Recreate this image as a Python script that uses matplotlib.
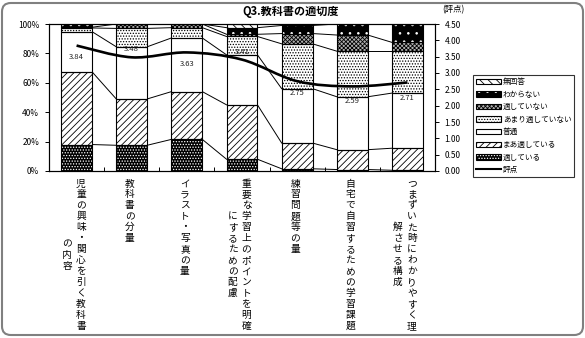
import numpy as np
import matplotlib.pyplot as plt
from matplotlib.patches import Patch, FancyBboxPatch, PathPatch
from matplotlib.lines import Line2D
from matplotlib.path import Path

plt.rcParams['font.family'] = ['Noto Sans CJK JP', 'DejaVu Sans']
plt.rcParams['hatch.linewidth'] = 0.6

# 項目名 (縦書き, 2列目は折り返し分)
項目 = [
    ['児童の興味・関心を引く教科書', 'の内容'],
    ['教科書の分量'],
    ['イラスト・写真の量'],
    ['重要な学習上のポイントを明確', 'にするための配慮'],
    ['練習問題等の量'],
    ['自宅で自習するための学習課題'],
    ['つまずいた時にわかりやすく理', '解させる構成'],
]

# 回答の割合 (%)
適している = [18, 17.5, 21.5, 8, 1.5, 1, 0.5]
まあ適している = [49.5, 31.5, 32.5, 37, 17.5, 13.5, 15]
普通 = [27.3, 35.5, 36.5, 34, 37, 36, 37.5]
あまり適していない = [2.5, 12.5, 7, 12.5, 30.5, 31, 28.5]
適していない = [0.5, 3, 2.5, 1.5, 7, 11, 6]
わからない = [2, 0, 0, 4.5, 5.5, 7.5, 12.5]
無回答 = [0.2, 0, 0, 2.5, 1, 0, 0]

# 評点 (右軸)
評点 = [3.84, 3.48, 3.63, 3.41, 2.75, 2.59, 2.71]

系列名 = ['適している', 'まあ適している', '普通', 'あまり適していない', '適していない', 'わからない', '無回答']
系列値 = [適している, まあ適している, 普通, あまり適していない, 適していない, わからない, 無回答]
# (塗り, ハッチ, ハッチ色)
模様 = [
    ('black', '......', 'white'),
    ('white', '/////', 'black'),
    ('white', '', 'black'),
    ('white', '......', 'black'),
    ('#b0b0b0', 'xxxxxxxx', 'black'),
    ('black', '..', 'white'),
    ('white', '\\\\\\\\', 'black'),
]

W, H = 585, 338
fig = plt.figure(figsize=(W / 100, H / 100), dpi=100)
ax = fig.add_axes([49 / W, 1 - 171 / H, (435 - 49) / W, (171 - 24) / H])

x = np.arange(len(項目))
w = 0.56
bottom = np.zeros(len(x))
tops = []
handles = {}
for name, vals, (fc, hatch, hc) in zip(系列名, 系列値, 模様):
    v = np.array(vals) / 100
    ax.bar(x, v, w, bottom=bottom, color=fc, hatch=hatch, edgecolor=hc, linewidth=0, zorder=2)
    ax.bar(x, v, w, bottom=bottom, fill=False, edgecolor='black', linewidth=0.8, zorder=3)
    bottom = bottom + v
    tops.append(bottom.copy())
    handles[name] = (Patch(facecolor=fc, hatch=hatch, edgecolor=hc, linewidth=0),
                     Patch(fill=False, edgecolor='black', linewidth=0.8))

# 区分線 (棒と棒の間をつなぐ)
for t in tops:
    for i in range(len(x) - 1):
        ax.plot([x[i] + w / 2, x[i + 1] - w / 2], [t[i], t[i + 1]], color='black', lw=0.7, zorder=1)

ax.set_xlim(-0.5, len(x) - 0.5)
ax.set_ylim(0, 1)
ax.set_yticks(np.linspace(0, 1, 6))
ax.set_yticklabels([f'{int(round(v * 100))}%' for v in np.linspace(0, 1, 6)], fontsize=6)
ax.set_xticks(x)
ax.set_xticklabels([])
ax.tick_params(axis='x', length=0)
ax.set_xticks(x[:-1] + 0.5, minor=True)
ax.tick_params(axis='x', which='minor', direction='in', length=3, width=0.7)
ax.tick_params(axis='y', direction='out', length=3, width=0.7, pad=4)
for s in ax.spines.values():
    s.set_linewidth(0.8)

# 縦書きの項目名
trans = ax.get_xaxis_transform()
pitch = 7.9
for i, cols in enumerate(項目):
    n1 = len(cols[0])
    dxs = [-1.4] if len(cols) == 1 else [3.2, -6.8]
    for col, dx in zip(cols, dxs):
        shift = (n1 - len(col)) / 2
        for k, ch in enumerate(col):
            ax.annotate(ch, xy=(i, 0), xycoords=trans,
                        xytext=(dx, -9 - (k + shift) * pitch), textcoords='offset points',
                        ha='center', va='center', fontsize=7, annotation_clip=False)

# 評点の平滑線
ax2 = ax.twinx()
ax2.set_ylim(0, 4.5)
ax2.set_yticks(np.arange(0, 4.51, 0.5))
ax2.set_yticklabels([f'{v:.2f}' for v in np.arange(0, 4.51, 0.5)], fontsize=6)
ax2.tick_params(axis='y', direction='out', length=3, width=0.7, pad=4)
for s in ax2.spines.values():
    s.set_linewidth(0.8)

pts = np.column_stack([x, 評点])
verts = [tuple(pts[0])]
codes = [Path.MOVETO]
for i in range(len(pts) - 1):
    p0 = pts[max(i - 1, 0)]
    p1 = pts[i]
    p2 = pts[i + 1]
    p3 = pts[min(i + 2, len(pts) - 1)]
    verts += [tuple(p1 + (p2 - p0) / 6), tuple(p2 - (p3 - p1) / 6), tuple(p2)]
    codes += [Path.CURVE4] * 3
ax2.add_patch(PathPatch(Path(verts, codes), fill=False, edgecolor='black', lw=1.9, zorder=5))

label_dy = [-8.2, 5.8, -8.2, 5.8, -8.6, -10.5, -11.5]
for xi, s, dy in zip(x, 評点, label_dy):
    ax2.annotate(f'{s:.2f}', (xi, s), xytext=(0, dy), textcoords='offset points',
                 ha='center', va='center', fontsize=5.5, color='#222222', zorder=6)

fig.text(291 / W, 1 - 11 / H, 'Q3.教科書の適切度', ha='center', va='center', fontsize=8, fontweight='bold')
fig.text(453 / W, 1 - 10 / H, '(評点)', ha='center', va='center', fontsize=6)

# 凡例
leg_names = ['無回答', 'わからない', '適していない', 'あまり適していない', '普通', 'まあ適している', '適している']
leg_handles = [handles[n] for n in leg_names] + [Line2D([], [], color='black', lw=1.5)]
leg = fig.legend(leg_handles, leg_names + ['評点'], loc='upper left',
                 bbox_to_anchor=(473 / W, 1 - 75 / H), fontsize=5.5, frameon=True,
                 fancybox=False, edgecolor='black', handlelength=3.2, handleheight=0.7,
                 labelspacing=0.6, borderpad=0.4, handletextpad=0.3, borderaxespad=0)
leg.get_frame().set_linewidth(0.8)

# 外枠
fig.patches.append(FancyBboxPatch((2 / W, 3 / H), 581 / W, 332 / H,
                                  boxstyle='round,pad=0,rounding_size=0.015',
                                  mutation_aspect=W / H, transform=fig.transFigure,
                                  fill=False, edgecolor='#808080', lw=1.5))

fig.savefig('out.png', dpi=100)
